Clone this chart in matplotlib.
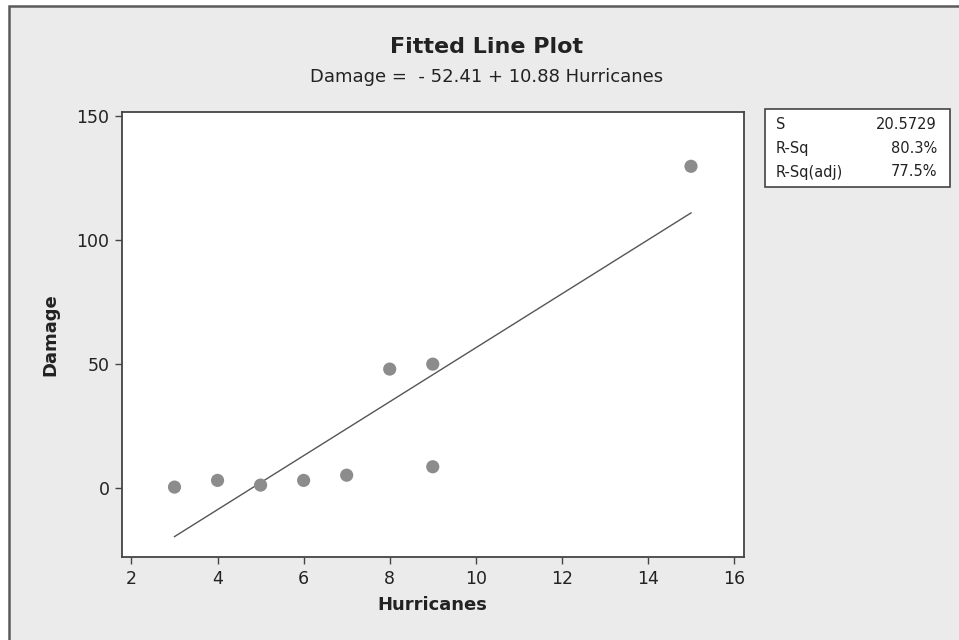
import matplotlib
matplotlib.use("Agg")
import matplotlib.pyplot as plt
from matplotlib.patches import Rectangle
import numpy as np

# Data
hurricanes = [3, 4, 5, 6, 7, 8, 9, 9, 15]
damage = [0.2, 2.9, 1.0, 2.9, 5.0, 47.8, 49.8, 8.4, 129.6]
intercept = -52.41
slope = 10.88
stat_names = ["S", "R-Sq", "R-Sq(adj)"]
stat_values = ["20.5729", "80.3%", "77.5%"]
x_ticks = [2, 4, 6, 8, 10, 12, 14, 16]
y_ticks = [0, 50, 100, 150]

W, H = 959, 640
fig = plt.figure(figsize=(W / 100, H / 100), dpi=100)
fig.patch.set_facecolor("white")

# grey panel with dark border on top/left
bg = Rectangle((9 / W, -0.05), 1.2, 1 - 6 / H + 0.05, transform=fig.transFigure,
               facecolor="#ebebeb", edgecolor="#5a5a5a", linewidth=1.8, zorder=-10)
fig.patches.append(bg)

ax = fig.add_axes([122 / W, 1 - 557 / H, (743.5 - 122) / W, (557 - 112) / H])
ax.set_zorder(2)
ax.set_facecolor("white")

ax.scatter(hurricanes, damage, s=90, color="#8c8c8c", edgecolors="none", zorder=3)
xf = np.array([min(hurricanes), max(hurricanes)])
ax.plot(xf, intercept + slope * xf, color="#555555", linewidth=1.0, zorder=2)

ax.set_xlim(1.78, 16.22)
ax.set_ylim(-28, 151.5)
ax.set_xticks(x_ticks)
ax.set_yticks(y_ticks)

for s in ["left", "bottom", "right", "top"]:
    ax.spines[s].set_color("#444444")
    ax.spines[s].set_linewidth(1.3)

ax.tick_params(axis="both", direction="out", length=5, width=1, color="#444444",
               labelsize=12.5, labelcolor="#222222", pad=4)

ax.set_xlabel("Hurricanes", fontsize=13, fontweight="bold", color="#222222", labelpad=6)
ax.set_ylabel("Damage", fontsize=13, fontweight="bold", color="#222222", labelpad=12)

fig.text(487 / W, 1 - 47 / H, "Fitted Line Plot", ha="center", va="center",
         fontsize=16, fontweight="bold", color="#222222")
fig.text(487 / W, 1 - 77 / H, "Damage =  - 52.41 + 10.88 Hurricanes", ha="center",
         va="center", fontsize=13, color="#222222")

# statistics box
box = Rectangle((765 / W, 1 - 186.5 / H), (950 - 765) / W, (186.5 - 109.5) / H,
                transform=fig.transFigure, facecolor="white", edgecolor="#444444",
                linewidth=1.2, zorder=1)
fig.patches.append(box)
row_y = [124.5, 148.5, 172]
for name, val, yy in zip(stat_names, stat_values, row_y):
    fig.text(776 / W, 1 - yy / H, name, ha="left", va="center", fontsize=10.5, color="#222222")
    fig.text(937 / W, 1 - yy / H, val, ha="right", va="center", fontsize=10.5, color="#222222")

fig.savefig("out.png", dpi=100)
